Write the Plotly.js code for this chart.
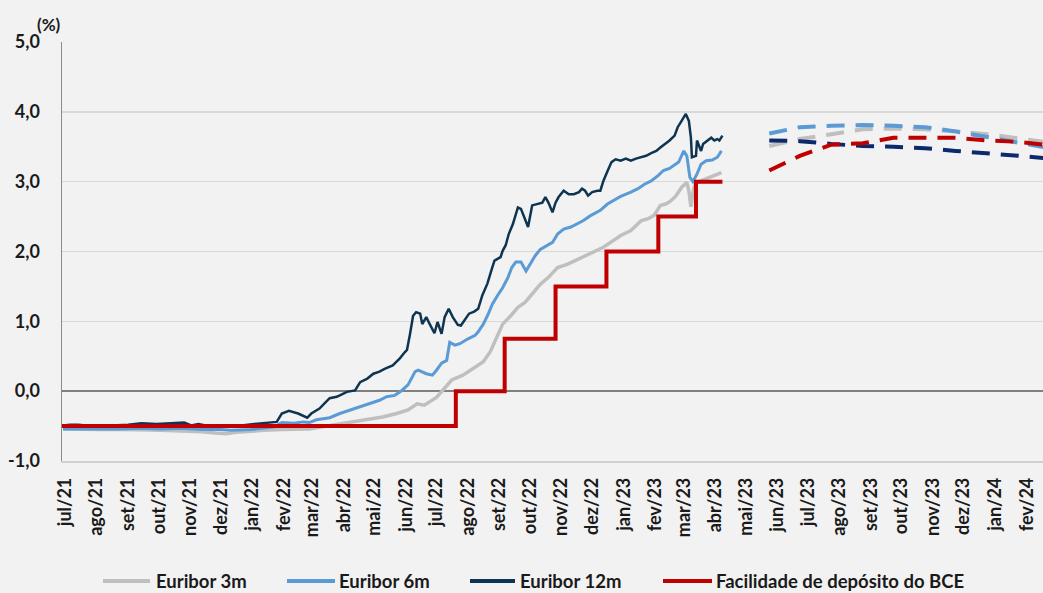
<!DOCTYPE html>
<html>
<head>
<meta charset="utf-8">
<script src="https://cdn.plot.ly/plotly-3.0.1.min.js"></script>
<style>
html,body{margin:0;padding:0;background:#f2f2f2;}
#chart{width:1043px;height:593px;}
</style>
</head>
<body>
<div id="chart"></div>
<script>
// ---------------- DATA ----------------
const seriesNames = ['Euribor 3m', 'Euribor 6m', 'Euribor 12m', 'Facilidade de depósito do BCE'];

const dates12m = ['2021-06-29','2021-07-06','2021-07-14','2021-07-26','2021-08-05','2021-08-20','2021-09-01','2021-09-14','2021-09-29','2021-10-13','2021-10-26','2021-11-02','2021-11-09','2021-11-16','2021-11-26','2021-12-09','2021-12-21','2022-01-03','2022-01-15','2022-01-25','2022-01-30','2022-02-06','2022-02-15','2022-02-24','2022-02-28','2022-03-08','2022-03-18','2022-03-25','2022-03-28','2022-04-04','2022-04-12','2022-04-17','2022-04-24','2022-04-30','2022-05-06','2022-05-11','2022-05-19','2022-05-26','2022-05-31','2022-06-02','2022-06-05','2022-06-08','2022-06-11','2022-06-15','2022-06-17','2022-06-21','2022-06-24','2022-06-29','2022-07-02','2022-07-06','2022-07-09','2022-07-13','2022-07-17','2022-07-22','2022-07-25','2022-07-29','2022-08-02','2022-08-07','2022-08-11','2022-08-15','2022-08-20','2022-08-25','2022-08-27','2022-09-02','2022-09-04','2022-09-07','2022-09-10','2022-09-14','2022-09-19','2022-09-22','2022-09-27','2022-09-29','2022-10-03','2022-10-08','2022-10-13','2022-10-16','2022-10-19','2022-10-23','2022-10-26','2022-10-29','2022-11-03','2022-11-08','2022-11-13','2022-11-18','2022-11-21','2022-11-24','2022-11-27','2022-12-01','2022-12-06','2022-12-09','2022-12-12','2022-12-16','2022-12-20','2022-12-24','2022-12-29','2023-01-03','2023-01-08','2023-01-13','2023-01-18','2023-01-23','2023-01-28','2023-02-02','2023-02-06','2023-02-11','2023-02-15','2023-02-20','2023-02-23','2023-02-26','2023-03-03','2023-03-06','2023-03-08','2023-03-09','2023-03-13','2023-03-14','2023-03-18','2023-03-20','2023-03-24','2023-03-28','2023-03-31','2023-04-03','2023-04-05','2023-04-08'];
const euribor12m = [-0.49,-0.48,-0.48,-0.50,-0.50,-0.49,-0.48,-0.46,-0.47,-0.46,-0.45,-0.49,-0.47,-0.49,-0.49,-0.50,-0.49,-0.47,-0.45,-0.44,-0.32,-0.28,-0.32,-0.38,-0.32,-0.25,-0.10,-0.08,-0.06,-0.01,0.01,0.13,0.18,0.25,0.28,0.32,0.37,0.47,0.56,0.59,0.82,1.08,1.13,1.11,0.96,1.06,0.97,0.83,0.99,0.82,1.06,1.18,1.06,0.95,0.94,1.03,1.11,1.14,1.18,1.37,1.54,1.78,1.87,1.92,2.01,2.09,2.25,2.39,2.63,2.61,2.42,2.35,2.66,2.68,2.70,2.78,2.70,2.56,2.70,2.78,2.87,2.82,2.82,2.85,2.90,2.87,2.80,2.85,2.87,2.87,3.01,3.15,3.28,3.32,3.30,3.33,3.30,3.33,3.35,3.37,3.41,3.44,3.49,3.54,3.59,3.66,3.78,3.85,3.97,3.87,3.63,3.35,3.37,3.59,3.44,3.54,3.59,3.63,3.59,3.61,3.59,3.66];

const dates6m = ['2021-06-29','2021-07-16','2021-08-05','2021-08-25','2021-09-14','2021-10-03','2021-10-23','2021-11-12','2021-12-01','2021-12-11','2021-12-31','2022-01-15','2022-01-23','2022-01-30','2022-02-11','2022-02-20','2022-02-26','2022-03-05','2022-03-18','2022-03-28','2022-04-07','2022-04-17','2022-04-27','2022-05-06','2022-05-13','2022-05-21','2022-05-28','2022-06-03','2022-06-10','2022-06-13','2022-06-21','2022-06-27','2022-07-01','2022-07-06','2022-07-11','2022-07-14','2022-07-19','2022-07-24','2022-08-01','2022-08-08','2022-08-11','2022-08-16','2022-08-21','2022-08-25','2022-08-30','2022-09-04','2022-09-09','2022-09-13','2022-09-17','2022-09-22','2022-09-27','2022-10-01','2022-10-06','2022-10-11','2022-10-15','2022-10-23','2022-10-28','2022-11-03','2022-11-10','2022-11-16','2022-11-22','2022-11-29','2022-12-09','2022-12-16','2022-12-22','2022-12-29','2023-01-08','2023-01-15','2023-01-21','2023-01-28','2023-02-04','2023-02-09','2023-02-15','2023-02-24','2023-03-01','2023-03-04','2023-03-07','2023-03-10','2023-03-14','2023-03-18','2023-03-23','2023-03-29','2023-04-03','2023-04-07'];
const euribor6m = [-0.54,-0.54,-0.55,-0.54,-0.53,-0.54,-0.53,-0.55,-0.55,-0.56,-0.55,-0.53,-0.51,-0.45,-0.46,-0.44,-0.45,-0.41,-0.38,-0.32,-0.27,-0.22,-0.18,-0.13,-0.08,-0.06,0.01,0.09,0.28,0.30,0.25,0.23,0.30,0.40,0.44,0.70,0.66,0.68,0.75,0.80,0.85,0.96,1.11,1.25,1.37,1.48,1.62,1.77,1.85,1.85,1.72,1.82,1.94,2.03,2.06,2.13,2.25,2.32,2.35,2.39,2.44,2.51,2.59,2.68,2.73,2.79,2.85,2.90,2.96,3.01,3.09,3.16,3.19,3.28,3.44,3.37,3.06,3.00,3.11,3.25,3.30,3.31,3.35,3.44];

const dates3m = ['2021-06-29','2021-07-16','2021-08-05','2021-08-25','2021-09-14','2021-10-03','2021-10-23','2021-11-12','2021-11-26','2021-12-06','2021-12-16','2021-12-31','2022-01-13','2022-01-30','2022-02-15','2022-02-26','2022-03-11','2022-03-28','2022-04-14','2022-04-27','2022-05-09','2022-05-23','2022-06-03','2022-06-12','2022-06-19','2022-07-01','2022-07-09','2022-07-16','2022-07-27','2022-08-06','2022-08-16','2022-08-23','2022-08-29','2022-09-04','2022-09-12','2022-09-19','2022-09-26','2022-10-03','2022-10-11','2022-10-19','2022-10-28','2022-11-07','2022-11-14','2022-11-22','2022-12-02','2022-12-12','2022-12-22','2022-12-29','2023-01-08','2023-01-18','2023-01-25','2023-01-31','2023-02-06','2023-02-11','2023-02-15','2023-02-21','2023-02-27','2023-03-04','2023-03-06','2023-03-08','2023-03-11','2023-03-14','2023-03-19','2023-03-26','2023-04-01','2023-04-07'];
const euribor3m = [-0.54,-0.55,-0.55,-0.55,-0.55,-0.56,-0.57,-0.58,-0.60,-0.61,-0.59,-0.57,-0.56,-0.55,-0.55,-0.54,-0.51,-0.47,-0.44,-0.40,-0.37,-0.32,-0.27,-0.18,-0.20,-0.09,0.04,0.16,0.23,0.32,0.42,0.57,0.78,0.96,1.08,1.20,1.27,1.40,1.53,1.63,1.77,1.82,1.87,1.92,1.99,2.06,2.16,2.23,2.30,2.44,2.47,2.52,2.66,2.68,2.71,2.79,2.92,2.99,2.87,2.64,2.92,2.99,3.02,3.06,3.10,3.13];

const datesBCE = ['2021-06-28','2022-07-20','2022-09-06','2022-10-26','2022-12-15','2023-02-04','2023-03-13','2023-04-08'];
const depositRate = [-0.50,0.00,0.75,1.50,2.00,2.50,3.00,3.00];

// market expectations (dashed)
const forecastDates = ['2023-05-24','2023-06-23','2023-07-24','2023-08-24','2023-09-23','2023-10-24','2023-11-23','2023-12-24','2024-01-24','2024-02-23'];
const forecast3m  = [3.51,3.61,3.68,3.75,3.76,3.75,3.72,3.68,3.62,3.56];
const forecast6m  = [3.69,3.78,3.80,3.81,3.80,3.78,3.72,3.64,3.56,3.48];
const forecast12m = [3.59,3.58,3.54,3.51,3.50,3.48,3.44,3.41,3.37,3.33];
const forecastBCE = [3.16,3.37,3.53,3.55,3.63,3.63,3.63,3.59,3.57,3.52];

const tickDates = ['2021-07-01','2021-08-01','2021-09-01','2021-10-01','2021-11-01','2021-12-01','2022-01-01','2022-02-01','2022-03-01','2022-04-01','2022-05-01','2022-06-01','2022-07-01','2022-08-01','2022-09-01','2022-10-01','2022-11-01','2022-12-01','2023-01-01','2023-02-01','2023-03-01','2023-04-01','2023-05-01','2023-06-01','2023-07-01','2023-08-01','2023-09-01','2023-10-01','2023-11-01','2023-12-01','2024-01-01','2024-02-01'];
const tickLabels = ['jul/21','ago/21','set/21','out/21','nov/21','dez/21','jan/22','fev/22','mar/22','abr/22','mai/22','jun/22','jul/22','ago/22','set/22','out/22','nov/22','dez/22','jan/23','fev/23','mar/23','abr/23','mai/23','jun/23','jul/23','ago/23','set/23','out/23','nov/23','dez/23','jan/24','fev/24'];
const yTickVals = [-1,0,1,2,3,4,5];
const yTickLabels = ['-1,0','0,0','1,0','2,0','3,0','4,0','5,0'];

// ---------------- STYLE ----------------
const C3 = '#bfbfbf', C6 = '#5b9bd5', C12 = '#0d3552', C12f = '#0b2a6e', CR = '#c00000';
const FONT = 'Lato, Calibri, "Open Sans", sans-serif';
const DASH = '18px,11px';

const traces = [
  {x: dates3m, y: euribor3m, name: seriesNames[0], mode:'lines', line:{color:C3, width:3.5}},
  {x: dates6m, y: euribor6m, name: seriesNames[1], mode:'lines', line:{color:C6, width:3}},
  {x: dates12m, y: euribor12m, name: seriesNames[2], mode:'lines', line:{color:C12, width:2.5}},
  {x: datesBCE, y: depositRate, name: seriesNames[3], mode:'lines', line:{color:CR, width:4, shape:'hv'}},
  {x: forecastDates, y: forecast3m, mode:'lines', line:{color:C3, width:4, dash:DASH}},
  {x: forecastDates, y: forecast6m, mode:'lines', line:{color:C6, width:4, dash:DASH}},
  {x: forecastDates, y: forecast12m, mode:'lines', line:{color:C12f, width:4, dash:DASH}},
  {x: forecastDates, y: forecastBCE, mode:'lines', line:{color:CR, width:4, dash:DASH}}
];
traces.forEach(t => { t.showlegend = false; t.hoverinfo = 'skip'; });

// plot box in pixels
const L = 62, R = 0, T = 42, B = 132, W = 1043, H = 593;
const pw = W - L - R, ph = H - T - B;
const px = v => (v - L) / pw;
const py = v => (H - B - v) / ph;

// manual legend (line + label)
const legendItems = [
  {x0:103, x1:150, tx:154, color:C3},
  {x0:287, x1:335, tx:337, color:C6},
  {x0:470, x1:515, tx:518, color:C12},
  {x0:663, x1:712, tx:714, color:CR}
];
const legendY = 581;
const shapes = legendItems.map(it => ({
  type:'line', xref:'paper', yref:'paper',
  x0:px(it.x0), x1:px(it.x1), y0:py(legendY), y1:py(legendY),
  line:{color:it.color, width:4}
}));
const annotations = legendItems.map((it, i) => ({
  xref:'paper', yref:'paper', x:px(it.tx), y:py(legendY),
  xanchor:'left', yanchor:'middle', showarrow:false,
  text: seriesNames[i], font:{family:FONT, size:18.5, color:'#1a1a1a', weight:700}
}));
annotations.push({
  xref:'paper', yref:'paper', x:px(49), y:py(24), xanchor:'center', yanchor:'middle',
  showarrow:false, text:'(%)', font:{family:FONT, size:17, color:'#1a1a1a', weight:700}
});

const layout = {
  width: W, height: H,
  margin: {l:L, r:R, t:T, b:B, pad:0},
  paper_bgcolor:'#f2f2f2', plot_bgcolor:'#f2f2f2',
  separators: ',.',
  showlegend:false,
  font:{family:FONT, color:'#1a1a1a'},
  xaxis: {
    type:'date', range:['2021-06-28','2024-02-17'],
    tickvals: tickDates, ticktext: tickLabels, tickangle:-90,
    tickfont:{family:FONT, size:18, color:'#1a1a1a', weight:700},
    showgrid:false, zeroline:false, showline:true, linecolor:'#d0d0d0', linewidth:1.5,
    ticks:'', ticklabelstandoff: 8
  },
  yaxis: {
    range:[-1,5], tickvals: yTickVals, ticktext: yTickLabels,
    tickfont:{family:FONT, size:18, color:'#1a1a1a', weight:700},
    showgrid:true, gridcolor:'#d9d9d9', gridwidth:1.5,
    zeroline:true, zerolinecolor:'#808080', zerolinewidth:1.5,
    showline:true, linecolor:'#8c8c8c', linewidth:1.5,
    ticks:'', ticklabelstandoff: 17
  },
  shapes: shapes,
  annotations: annotations
};

Plotly.newPlot('chart', traces, layout, {displayModeBar:false, staticPlot:true});
</script>
</body>
</html>
